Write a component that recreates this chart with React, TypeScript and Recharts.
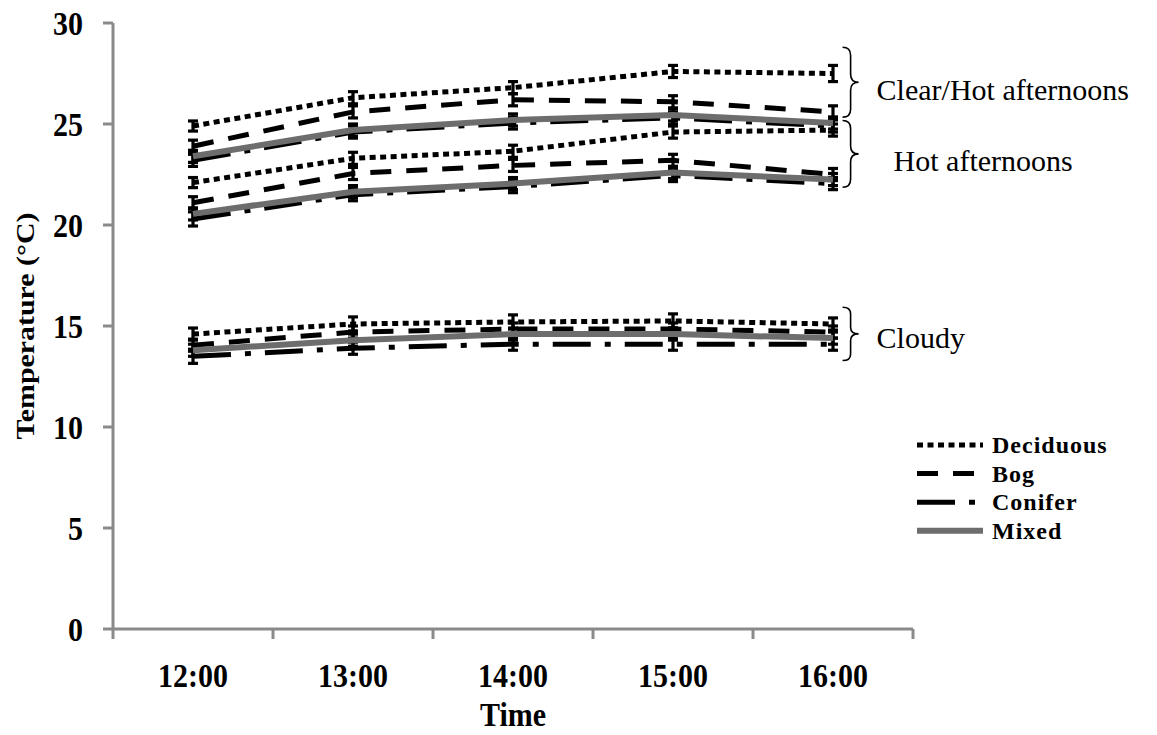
import React from 'react';
import { LineChart, Line, XAxis, YAxis, ErrorBar, ReferenceArea, Legend } from 'recharts';

// ---------- data ----------
const times = ['12:00', '13:00', '14:00', '15:00', '16:00'];
const yTicks = [0, 5, 10, 15, 20, 25, 30];

const clearDeciduous = [24.9, 26.3, 26.8, 27.6, 27.5];
const clearBog = [23.9, 25.6, 26.2, 26.1, 25.6];
const clearConifer = [23.2, 24.6, 25.05, 25.3, 24.9];
const clearMixed = [23.4, 24.7, 25.2, 25.45, 25.05];

const hotDeciduous = [22.1, 23.3, 23.65, 24.6, 24.7];
const hotBog = [21.1, 22.55, 22.95, 23.2, 22.5];
const hotConifer = [20.3, 21.5, 21.9, 22.45, 22.05];
const hotMixed = [20.55, 21.65, 22.05, 22.6, 22.25];

const cloudyDeciduous = [14.6, 15.1, 15.2, 15.25, 15.1];
const cloudyBog = [14.05, 14.7, 14.85, 14.85, 14.7];
const cloudyConifer = [13.5, 13.9, 14.1, 14.1, 14.1];
const cloudyMixed = [13.8, 14.3, 14.6, 14.6, 14.4];

const clearDeciduousErr = [0.25, 0.3, 0.3, 0.3, 0.4];
const clearBogErr = [0.3, 0.3, 0.3, 0.3, 0.3];
const clearConiferErr = [0.3, 0.3, 0.3, 0.3, 0.3];
const clearMixedErr = [0.3, 0.3, 0.3, 0.3, 0.3];
const hotDeciduousErr = [0.25, 0.3, 0.3, 0.3, 0.3];
const hotBogErr = [0.3, 0.3, 0.3, 0.3, 0.3];
const hotConiferErr = [0.35, 0.3, 0.3, 0.3, 0.3];
const hotMixedErr = [0.3, 0.3, 0.3, 0.3, 0.3];
const cloudyDeciduousErr = [0.3, 0.35, 0.35, 0.35, 0.3];
const cloudyBogErr = [0.3, 0.3, 0.3, 0.3, 0.3];
const cloudyConiferErr = [0.35, 0.3, 0.3, 0.3, 0.3];
const cloudyMixedErr = [0.3, 0.3, 0.3, 0.3, 0.3];

const typeNames = ['Deciduous', 'Bog', 'Conifer', 'Mixed'];

const braceSpecs = [
  { label: 'Clear/Hot afternoons', top: 28.8, bottom: 25.34, textDx: 18, textDy: 8 },
  { label: 'Hot afternoons', top: 25.17, bottom: 21.87, textDx: 35, textDy: 7 },
  { label: 'Cloudy', top: 15.93, bottom: 13.29, textDx: 18, textDy: 4 },
];

// ---------- layout / style ----------
const W = 1157;
const H = 735;
const MARGIN = { top: 23, right: 244, left: 0, bottom: 0 };
const Y_W = 113;
const X_H = 106;
const PLOT_W = W - MARGIN.left - Y_W - MARGIN.right;
const HALF_BAND = PLOT_W / (2 * times.length);
const AXIS = '#8a8a8a';
const SERIF = '"Liberation Serif", "Times New Roman", serif';

const typeStyle: Record<string, { stroke: string; width: number; dash?: string }> = {
  Deciduous: { stroke: '#000', width: 5, dash: '6 4.5' },
  Bog: { stroke: '#000', width: 5, dash: '21 15' },
  Conifer: { stroke: '#000', width: 5, dash: '38 14 6 14' },
  Mixed: { stroke: '#6d6d6d', width: 6 },
};

const seriesDefs = [
  { key: 'clearDeciduous', type: 'Deciduous', v: clearDeciduous, e: clearDeciduousErr },
  { key: 'clearBog', type: 'Bog', v: clearBog, e: clearBogErr },
  { key: 'clearConifer', type: 'Conifer', v: clearConifer, e: clearConiferErr },
  { key: 'clearMixed', type: 'Mixed', v: clearMixed, e: clearMixedErr },
  { key: 'hotDeciduous', type: 'Deciduous', v: hotDeciduous, e: hotDeciduousErr },
  { key: 'hotBog', type: 'Bog', v: hotBog, e: hotBogErr },
  { key: 'hotConifer', type: 'Conifer', v: hotConifer, e: hotConiferErr },
  { key: 'hotMixed', type: 'Mixed', v: hotMixed, e: hotMixedErr },
  { key: 'cloudyDeciduous', type: 'Deciduous', v: cloudyDeciduous, e: cloudyDeciduousErr },
  { key: 'cloudyBog', type: 'Bog', v: cloudyBog, e: cloudyBogErr },
  { key: 'cloudyConifer', type: 'Conifer', v: cloudyConifer, e: cloudyConiferErr },
  { key: 'cloudyMixed', type: 'Mixed', v: cloudyMixed, e: cloudyMixedErr },
];

const order = ['Deciduous', 'Bog', 'Conifer', 'Mixed'];
const drawOrder = [...seriesDefs].sort((a, b) => order.indexOf(a.type) - order.indexOf(b.type));

const rows = times.map((t, i) => {
  const r: Record<string, number | string> = { x: i, time: t };
  seriesDefs.forEach((s) => {
    r[s.key] = s.v[i];
    r[s.key + 'Err'] = s.e[i];
  });
  return r;
});

const xBoundaryTicks = [-0.5, ...times.map((_, i) => i + 0.5)];

// ---------- custom renderers ----------
const XTick = (props: any) => {
  const { x, y, index } = props;
  if (index >= times.length) return null;
  return (
    <text
      transform={`translate(${x + HALF_BAND},${y + 46}) scale(1,1.15)`}
      textAnchor="middle"
      fontFamily={SERIF}
      fontWeight="bold"
      fontSize={30}
      fill="#000"
    >
      {times[index]}
    </text>
  );
};

const YTick = (props: any) => {
  const { x, y, payload } = props;
  return (
    <text
      transform={`translate(${x},${y}) scale(1,1.14)`}
      dy="0.36em"
      textAnchor="end"
      fontFamily={SERIF}
      fontWeight="bold"
      fontSize={30}
      fill="#000"
    >
      {payload.value}
    </text>
  );
};

const TimeLabel = (props: any) => {
  const vb = props.viewBox || {};
  return (
    <text
      transform={`translate(${vb.x + vb.width / 2},${vb.y + vb.height - 9}) scale(1,1.1)`}
      textAnchor="middle"
      fontFamily={SERIF}
      fontWeight="bold"
      fontSize={30}
      fill="#000"
    >
      Time
    </text>
  );
};

const YTitle = (props: any) => {
  const vb = props.viewBox || {};
  return (
    <text
      transform={`translate(${vb.x + 34},${vb.y + vb.height / 2}) rotate(-90) scale(1.15,1)`}
      textAnchor="middle"
      fontFamily={SERIF}
      fontWeight="bold"
      fontSize={26}
      fill="#000"
    >
      Temperature (°C)
    </text>
  );
};

const makeBrace = (label: string, textDx: number, textDy: number) => (p: any) => {
  const { x, y, width, height } = p;
  const xm = x + width * 0.5;
  const xr = x + width;
  const ym = y + height / 2;
  const r = Math.min(width * 0.5, height / 8);
  const d = `M${x},${y} Q${xm},${y} ${xm},${y + r} L${xm},${ym - r} Q${xm},${ym} ${xr},${ym} Q${xm},${ym} ${xm},${ym + r} L${xm},${y + height - r} Q${xm},${y + height} ${x},${y + height}`;
  return (
    <g>
      <path d={d} fill="none" stroke="#000" strokeWidth={1.6} />
      <text
        x={xr + textDx}
        y={ym + textDy}
        dy="0.33em"
        fontFamily={SERIF}
        fontSize={30}
        fill="#000"
      >
        {label}
      </text>
    </g>
  );
};

const LegendContent = () => (
  <svg width={240} height={120} style={{ display: 'block' }}>
    {typeNames.map((n, i) => {
      const st = typeStyle[n];
      const cy = 15 + i * 28.6;
      return (
        <g key={n}>
          <line
            x1={7}
            x2={73}
            y1={cy}
            y2={cy}
            stroke={st.stroke}
            strokeWidth={st.width}
            strokeDasharray={st.dash}
          />
          <text
            x={82}
            y={cy}
            dy="0.33em"
            fontFamily={SERIF}
            fontWeight="bold"
            fontSize={24}
            letterSpacing={1}
            fill="#000"
          >
            {n}
          </text>
        </g>
      );
    })}
  </svg>
);

export default function App() {
  return (
    <div style={{ position: 'absolute', left: 0, top: 0, width: W, height: H, background: '#fff' }}>
      <LineChart width={W} height={H} data={rows} margin={MARGIN}>
        <XAxis
          type="number"
          dataKey="x"
          domain={[-0.5, 4.5]}
          ticks={xBoundaryTicks}
          interval={0}
          allowDataOverflow
          height={X_H}
          tickSize={10}
          tickLine={{ stroke: AXIS, strokeWidth: 3 }}
          axisLine={{ stroke: AXIS, strokeWidth: 3 }}
          tick={<XTick />}
          label={<TimeLabel />}
        />
        <YAxis
          type="number"
          domain={[0, 30]}
          ticks={yTicks}
          interval={0}
          allowDataOverflow
          width={Y_W}
          tickSize={10}
          tickMargin={20}
          tickLine={{ stroke: AXIS, strokeWidth: 3 }}
          axisLine={{ stroke: AXIS, strokeWidth: 3 }}
          tick={<YTick />}
          label={<YTitle />}
        />
        {drawOrder.map((s) => {
          const st = typeStyle[s.type];
          return (
            <Line
              key={s.key}
              dataKey={s.key}
              name={s.type}
              type="linear"
              stroke={st.stroke}
              strokeWidth={st.width}
              strokeDasharray={st.dash}
              strokeLinecap="butt"
              dot={false}
              activeDot={false}
              isAnimationActive={false}
            >
              <ErrorBar
                dataKey={s.key + 'Err'}
                direction="y"
                width={5}
                stroke="#000"
                strokeWidth={3.2}
                isAnimationActive={false}
              />
            </Line>
          );
        })}
        {braceSpecs.map((b) => (
          <ReferenceArea
            key={b.label}
            x1={4.06}
            x2={4.16}
            y1={b.bottom}
            y2={b.top}
            ifOverflow="visible"
            shape={makeBrace(b.label, b.textDx, b.textDy)}
          />
        ))}
        <Legend
          layout="vertical"
          align="center"
          verticalAlign="middle"
          wrapperStyle={{ left: 910, top: 430, width: 240 }}
          content={<LegendContent />}
        />
      </LineChart>
    </div>
  );
}
